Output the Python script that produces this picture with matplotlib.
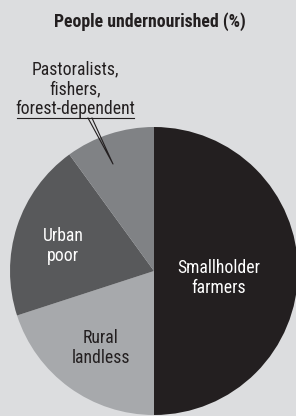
import numpy as np
import matplotlib
matplotlib.use("Agg")
import matplotlib.pyplot as plt

plt.rcParams['font.family'] = ['Roboto Condensed', 'Roboto', 'DejaVu Sans']

# data
groups = ["Smallholder\nfarmers", "Rural\nlandless", "Urban\npoor", "Pastoralists,\nfishers,\nforest-dependent"]
shares = [50, 20, 20, 10]
colors = ["#231f20", "#a7a9ac", "#58595b", "#808285"]
title = "People undernourished (%)"

W, H = 296, 416
fig = plt.figure(figsize=(W / 100, H / 100), dpi=100)
fig.patch.set_facecolor("#dcdddf")
ax = fig.add_axes([0, 0, 1, 1])

cx, cy, r = 154, H - 271, 144
ax.pie(shares, colors=colors, startangle=90, counterclock=False,
       center=(cx, cy), radius=r, frame=True,
       wedgeprops=dict(linewidth=0))
ax.set_xlim(0, W)
ax.set_ylim(0, H)
ax.set_aspect("equal")
ax.axis("off")

ax.text(150, H - 22, title, ha="center", va="center", fontsize=12.8,
        fontweight="bold", color="#231f20")

fs = 12.7
ax.text(219, H - 278, groups[0], ha="center", va="center", fontsize=fs,
        color="white", linespacing=1.15)
ax.text(101, H - 348, groups[1], ha="center", va="center", fontsize=fs,
        color="#231f20", linespacing=1.15)
ax.text(63, H - 246, groups[2], ha="center", va="center", fontsize=fs,
        color="white", linespacing=1.15)
ax.text(75, H - 89, groups[3], ha="center", va="center", fontsize=fs,
        color="#231f20", linespacing=1.12)

# underline + leader
ax.plot([17, 134], [H - 118, H - 118], color="#231f20", lw=0.8)
ax.plot([88, 113, 92], [H - 118, H - 164, H - 118], color="#231f20", lw=0.8)

fig.savefig("out.png", dpi=100, facecolor=fig.get_facecolor())
